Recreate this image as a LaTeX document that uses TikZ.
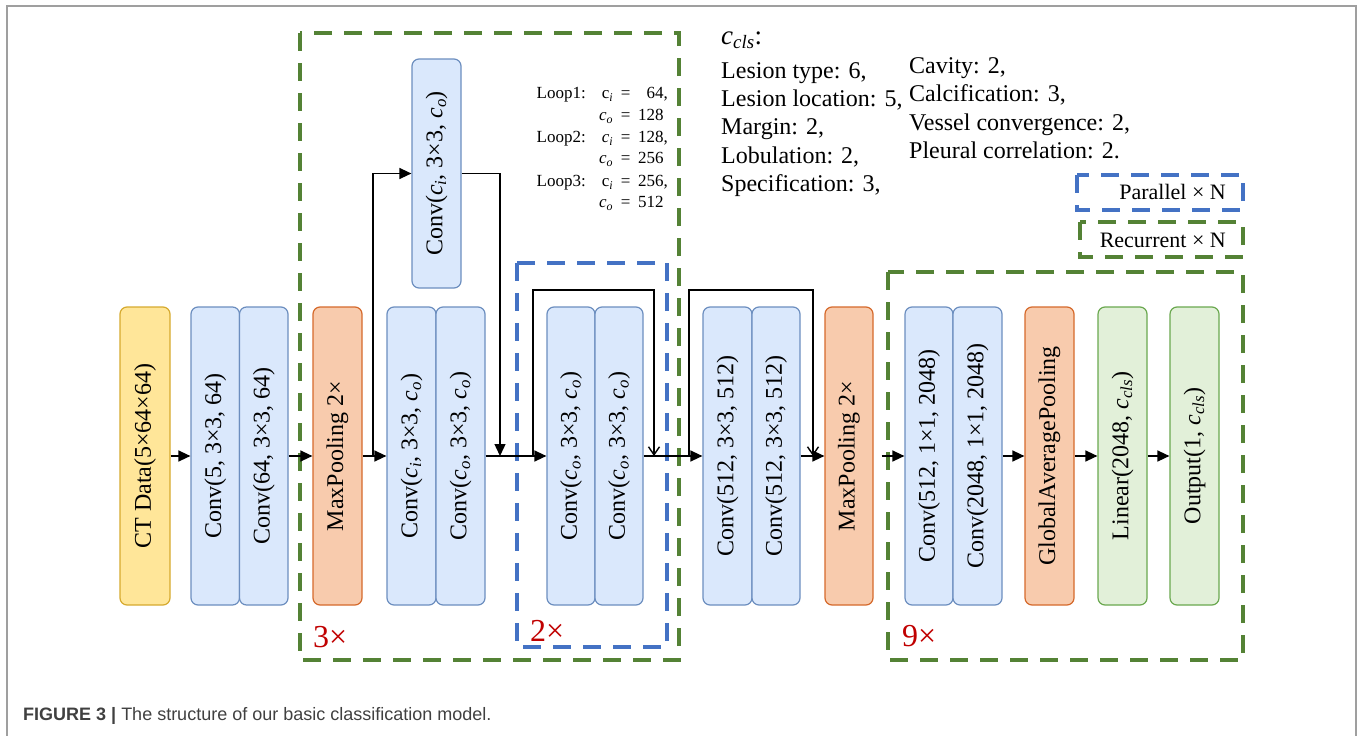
\documentclass[tikz,border=0pt]{standalone}
\usepackage{fontspec}
\setmainfont{Liberation Serif}
\newfontfamily\capfont{Liberation Sans}
\usepackage{graphicx}
\usetikzlibrary{arrows.meta}
\definecolor{yfill}{HTML}{FFE699}
\definecolor{ydraw}{HTML}{D6AA2E}
\definecolor{bfill}{HTML}{DAE8FC}
\definecolor{bdraw}{HTML}{6C8EBF}
\definecolor{ofill}{HTML}{F8CBAD}
\definecolor{odraw}{HTML}{D5692B}
\definecolor{gfill}{HTML}{E2F0D9}
\definecolor{gdraw}{HTML}{6AA84F}
\definecolor{gdash}{HTML}{548235}
\definecolor{bdash}{HTML}{4472C4}
\definecolor{redlab}{HTML}{C00000}
\definecolor{capgray}{HTML}{404040}
\newcommand{\myci}{\textit{c}\textsubscript{\textit{i}}}
\newcommand{\myco}{\textit{c}\textsubscript{\textit{o}}}
\newcommand{\mycls}{\textit{c}\textsubscript{\textit{cls}}}
\newcommand{\rt}[1]{\rotatebox{90}{#1}}
\newcommand{\eqs}{\hspace{0.45em}=\hspace{0.45em}}
\begin{document}
\begin{tikzpicture}[x=1pt,y=-1pt,
  blk/.style={draw, rounded corners=7pt, line width=1.2pt, inner sep=0pt,
    minimum height=298pt, minimum width=49pt, font=\fontsize{24}{28}\selectfont},
  ybox/.style={blk, fill=yfill, draw=ydraw},
  bbox/.style={blk, fill=bfill, draw=bdraw},
  obox/.style={blk, fill=ofill, draw=odraw},
  gbox/.style={blk, fill=gfill, draw=gdraw},
  arr/.style={-{Triangle[length=12pt,width=11pt]}, line width=1.4pt},
  openarr/.style={-{Straight Barb[length=8pt,width=11pt]}, line width=1.4pt},
  gdashed/.style={draw=gdash, line width=4pt, dash pattern=on 18pt off 12pt},
  bdashed/.style={draw=bdash, line width=4pt, dash pattern=on 18pt off 12pt},
  redl/.style={text=redlab, font=\fontsize{32}{36}\selectfont, inner sep=0pt, anchor=base west},
  clsl/.style={font=\fontsize{24}{28}\selectfont, inner sep=0pt, anchor=base west},
  loopl/.style={font=\fontsize{17}{20}\selectfont, inner sep=0pt},
  legl/.style={font=\fontsize{22}{26}\selectfont, inner sep=0pt, anchor=base east}
]
\useasboundingbox (0,0) rectangle (1360,736);
% frame
\draw[gray!75, line width=1.5pt] (7,736) -- (7,6) -- (1356,6) -- (1356,736);

% dashed groups
\draw[gdashed] (300,33) rectangle (679,660);
\draw[bdashed] (517,263) rectangle (667,647);
\draw[gdashed] (888,272) rectangle (1243,660);
\draw[bdashed] (1077,175) rectangle (1243,210);
\draw[gdashed] (1080,222) rectangle (1243,257);

% blocks
\node[ybox, minimum width=50pt] (ct) at (145,456) {\rt{CT Data(5×64×64)}};
\node[bbox, minimum width=48.5pt] (c1) at (215.25,456) {\rt{Conv(5, 3×3, 64)}};
\node[bbox, minimum width=48.5pt] (c2) at (263.75,456) {\rt{Conv(64, 3×3, 64)}};
\node[obox] (mp1) at (337.5,456) {\rt{MaxPooling 2×}};
\node[bbox] (c3) at (411.5,456) {\rt{Conv(\myci, 3×3, \myco)}};
\node[bbox] (c4) at (460.5,456) {\rt{Conv(\myco, 3×3, \myco)}};
\node[bbox, minimum height=229pt] (br) at (436.5,173.5) {\rt{Conv(\myci, 3×3, \myco)}};
\node[bbox, minimum width=48pt] (c5) at (571,456) {\rt{Conv(\myco, 3×3, \myco)}};
\node[bbox, minimum width=48pt] (c6) at (619,456) {\rt{Conv(\myco, 3×3, \myco)}};
\node[bbox] (c7) at (727.5,456) {\rt{Conv(512, 3×3, 512)}};
\node[bbox, minimum width=48pt] (c8) at (776,456) {\rt{Conv(512, 3×3, 512)}};
\node[obox, minimum width=48pt] (mp2) at (849,456) {\rt{MaxPooling 2×}};
\node[bbox, minimum width=48pt] (c9) at (929,456) {\rt{Conv(512, 1×1, 2048)}};
\node[bbox] (c10) at (977.5,456) {\rt{Conv(2048, 1×1, 2048)}};
\node[obox] (gap) at (1049.5,456) {\rt{GlobalAveragePooling}};
\node[gbox] (lin) at (1122.5,456) {\rt{Linear(2048, \mycls)}};
\node[gbox] (out) at (1194.5,456) {\rt{Output(1, \mycls)}};

% junction coordinates
\coordinate (bA) at (373,456);
\coordinate (bB) at (500,456);
\coordinate (s1a) at (533,456);
\coordinate (s1b) at (654,456);
\coordinate (s2a) at (689,456);
\coordinate (s2b) at (813,456);

% connectors
\draw[arr] (ct) -- (c1);
\draw[arr] (c2) -- (mp1);
\draw[arr] (mp1) -- (c3);
\draw[arr] (bA) |- (br.west);
\draw[arr] (br.east) -| (bB);
\draw[arr] (c4) -- (c5);
\draw[openarr] (s1a) -- ++(0,-166) -| (s1b);
\draw[arr] (c6) -- (c7);
\draw[openarr] (s2a) -- ++(0,-166) -| (s2b);
\draw[arr] (c8) -- (mp2);
\draw[arr, shorten <=8pt] (mp2) -- (c9);
\draw[arr] (c10) -- (gap);
\draw[arr] (gap) -- (lin);
\draw[arr] (lin) -- (out);

% repeat labels
\node[redl] (r3) at (313,647) {3×};
\node[redl] (r2) at (530,641) {2×};
\node[redl] (r9) at (902,646) {9×};

% loop text
\node[loopl, anchor=base east] (l1) at (586,98.5) {Loop1:};
\node[loopl, anchor=base east] (l1e) at (668,98.5) {c\textsubscript{\textit{i}}\eqs\phantom{1}64,};
\node[loopl, anchor=base east] (l1o) at (668,120.5) {\myco\eqs128\phantom{,}};
\node[loopl, anchor=base east] (l2) at (586,142.5) {Loop2:};
\node[loopl, anchor=base east] (l2e) at (668,142.5) {\myci\eqs128,};
\node[loopl, anchor=base east] (l2o) at (668,163.5) {\myco\eqs256\phantom{,}};
\node[loopl, anchor=base east] (l3) at (586,186.5) {Loop3:};
\node[loopl, anchor=base east] (l3e) at (668,186.5) {c\textsubscript{\textit{i}}\eqs256,};
\node[loopl, anchor=base east] (l3o) at (668,207.5) {\myco\eqs512\phantom{,}};

% c_cls text
\node[clsl, font=\fontsize{27}{30}\selectfont] (cls) at (721,44) {\mycls:};
\node[clsl] (t1) at (721,78) {Lesion type: 6,};
\node[clsl] (t2) at (721,106.3) {Lesion location: 5,};
\node[clsl] (t3) at (721,134.6) {Margin: 2,};
\node[clsl] (t4) at (721,163) {Lobulation: 2,};
\node[clsl] (t5) at (721,191.3) {Specification: 3,};
\node[clsl] (u1) at (909,73) {Cavity: 2,};
\node[clsl] (u2) at (909,101.5) {Calcification: 3,};
\node[clsl] (u3) at (909,130) {Vessel convergence: 2,};
\node[clsl] (u4) at (909,158.5) {Pleural correlation: 2.};

% legend
\node[legl] (lp) at (1226,199) {Parallel × N};
\node[legl] (lr) at (1226,247) {Recurrent × N};

% caption
\node[anchor=west, inner sep=0pt, text=capgray, font=\capfont\fontsize{18}{21}\selectfont] (cap) at (23,716)
  {\textbf{FIGURE 3 |} The structure of our basic classification model.};
\end{tikzpicture}
\end{document}
